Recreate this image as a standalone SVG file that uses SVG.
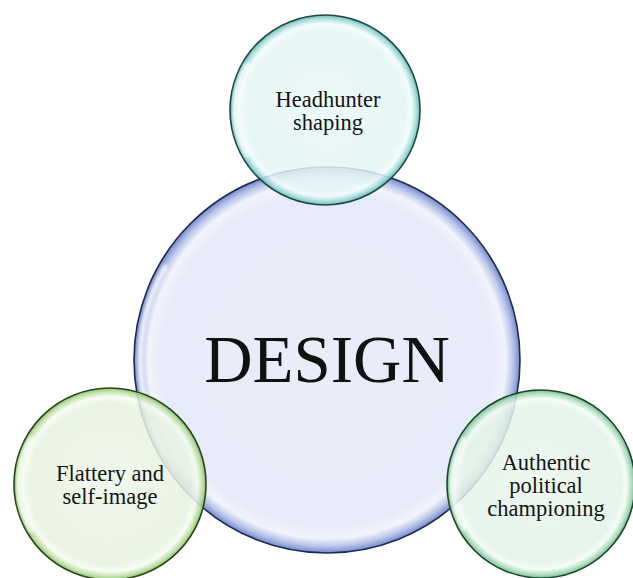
<svg xmlns="http://www.w3.org/2000/svg" width="633" height="578" viewBox="0 0 633 578">
<style>
.lbl{font-family:"Liberation Serif","Times New Roman",serif;font-size:22.5px;fill:#141414;text-anchor:middle}
.big{font-family:"Liberation Serif","Times New Roman",serif;font-size:67px;fill:#111;text-anchor:middle}
.hl{fill:none;stroke:#ffffff;stroke-width:5;stroke-linecap:round;opacity:0.75;filter:url(#blur)}
.ring{stroke-width:1.6}
</style>
<defs>
<filter id="blur" x="-20%" y="-20%" width="140%" height="140%"><feGaussianBlur stdDeviation="1.5"/></filter>
<radialGradient id="gMain" cx="0.5" cy="0.5" r="0.5">
<stop offset="0" stop-color="#eaedf9"/>
<stop offset="0.86" stop-color="#e7eaf8"/>
<stop offset="0.925" stop-color="#f2f4fc"/>
<stop offset="0.965" stop-color="#b9c6ea"/>
<stop offset="1" stop-color="#7489cc"/>
</radialGradient>
<radialGradient id="gTop" cx="0.5" cy="0.5" r="0.5">
<stop offset="0" stop-color="#e8f7f7" stop-opacity="0.85"/>
<stop offset="0.84" stop-color="#e2f5f4" stop-opacity="0.85"/>
<stop offset="0.91" stop-color="#f3fbfb" stop-opacity="0.85"/>
<stop offset="0.96" stop-color="#a6ddda" stop-opacity="0.9"/>
<stop offset="1" stop-color="#5bb9b3" stop-opacity="0.92"/>
</radialGradient>
<radialGradient id="gLeft" cx="0.5" cy="0.5" r="0.5">
<stop offset="0" stop-color="#eef6e9" stop-opacity="0.85"/>
<stop offset="0.84" stop-color="#e7f2df" stop-opacity="0.85"/>
<stop offset="0.91" stop-color="#f6fbf2" stop-opacity="0.85"/>
<stop offset="0.96" stop-color="#c0e0a8" stop-opacity="0.9"/>
<stop offset="1" stop-color="#88bf66" stop-opacity="0.92"/>
</radialGradient>
<radialGradient id="gRight" cx="0.5" cy="0.5" r="0.5">
<stop offset="0" stop-color="#eaf6ed" stop-opacity="0.85"/>
<stop offset="0.84" stop-color="#e2f3e6" stop-opacity="0.85"/>
<stop offset="0.91" stop-color="#f3fbf5" stop-opacity="0.85"/>
<stop offset="0.96" stop-color="#aedcbd" stop-opacity="0.9"/>
<stop offset="1" stop-color="#6abd8a" stop-opacity="0.92"/>
</radialGradient>
</defs>
<rect width="633" height="578" fill="#ffffff"/>
<g id="connectors"></g>
<g id="design">
<circle cx="327" cy="360" r="193" fill="url(#gMain)" stroke="#1d2a52" class="ring"/>
<path class="hl" d="M165,453 A186,186 0 0,1 165,267"/>
</g>
<g id="headhunter">
<circle cx="325" cy="110" r="95" fill="url(#gTop)" stroke="#1f4746" class="ring"/>
<path class="hl" d="M247,155 A90,90 0 0,1 247,65"/>
<text class="lbl" x="328" y="107">Headhunter</text>
<text class="lbl" x="328" y="130">shaping</text>
</g>
<g id="flattery">
<circle cx="110" cy="484" r="96" fill="url(#gLeft)" stroke="#2b461d" class="ring"/>
<path class="hl" d="M31,529.5 A91,91 0 0,1 31,438.5"/>
<text class="lbl" x="110" y="481">Flattery and</text>
<text class="lbl" x="110" y="504">self-image</text>
</g>
<g id="authentic">
<circle cx="541" cy="484" r="94" fill="url(#gRight)" stroke="#1f452d" class="ring"/>
<path class="hl" d="M464,528.5 A89,89 0 0,1 464,439.5"/>
<text class="lbl" x="546" y="470">Authentic</text>
<text class="lbl" x="546" y="493">political</text>
<text class="lbl" x="546" y="516">championing</text>
</g>
<g id="design-label">
<text class="big" x="327" y="382">DESIGN</text>
</g>
</svg>
